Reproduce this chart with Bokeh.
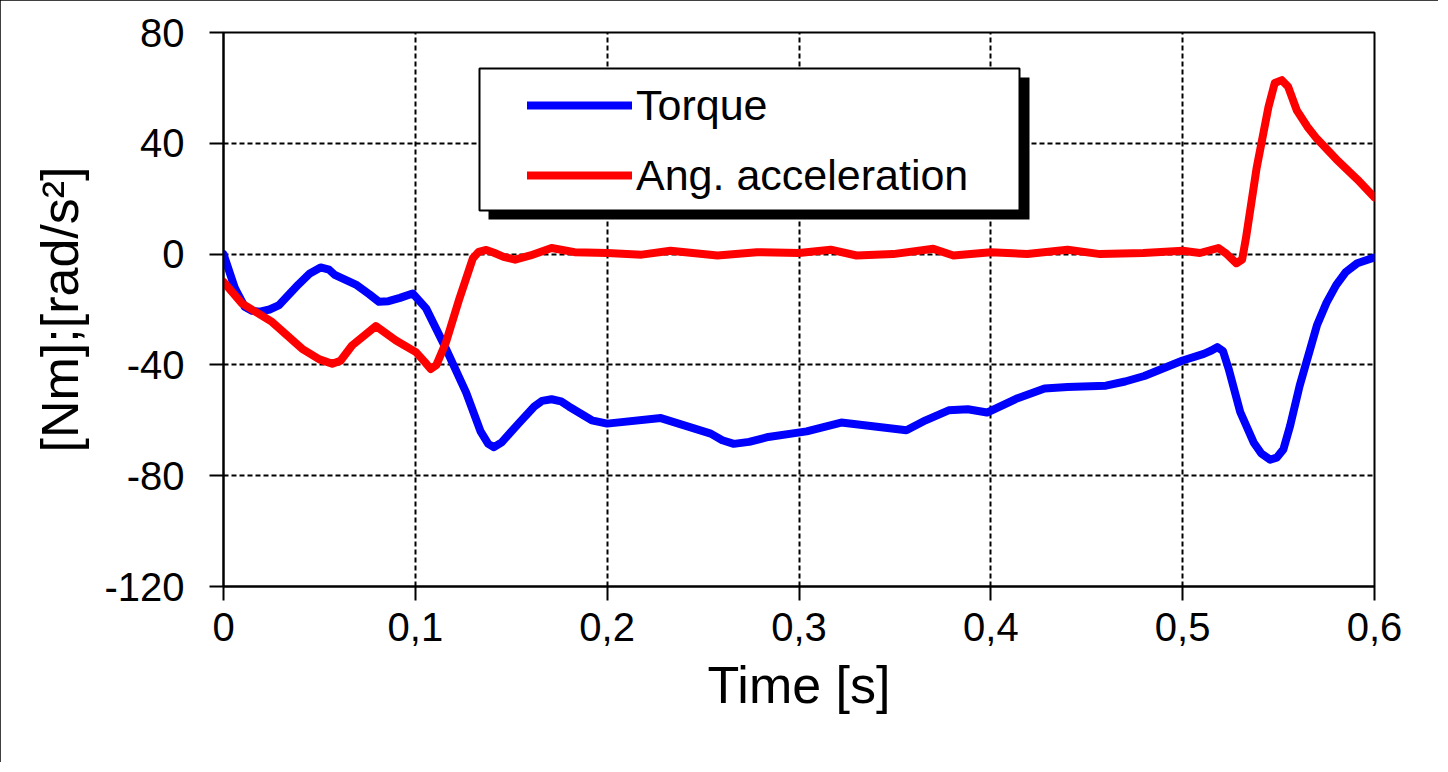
from bokeh.plotting import figure
from bokeh.models import (FixedTicker, CustomJSTickFormatter, Legend, LegendItem,
                          BoxAnnotation, ColumnDataSource)
from bokeh.embed import file_html
from bokeh.resources import INLINE

# ---- data ----
torque_t = [0.0, 0.006, 0.011, 0.015, 0.019, 0.024, 0.029, 0.039, 0.045, 0.0506, 0.055,
            0.058, 0.069, 0.076, 0.081, 0.086, 0.092, 0.0986, 0.1056, 0.116, 0.1265,
            0.134, 0.138, 0.141, 0.145, 0.154, 0.162, 0.166, 0.171, 0.176,
            0.180, 0.192, 0.2, 0.228, 0.254, 0.260, 0.266, 0.274, 0.284, 0.304,
            0.322, 0.356, 0.366, 0.378, 0.388, 0.398, 0.414, 0.428, 0.44, 0.46,
            0.47, 0.48, 0.5, 0.511, 0.515, 0.518, 0.521, 0.524, 0.530, 0.537,
            0.541, 0.5456, 0.549, 0.5525, 0.556, 0.561, 0.570, 0.575, 0.580,
            0.585, 0.591, 0.6]
torque_v = [0.0, -12.4, -19.0, -20.5, -20.8, -20.0, -18.4, -11.0, -7.0, -4.8, -5.6,
            -7.5, -11.0, -14.5, -17.2, -17.0, -15.8, -14.2, -19.6, -34.2, -50.0,
            -64.0, -68.5, -69.7, -68.0, -61.0, -55.0, -53.0, -52.4, -53.2,
            -55.0, -60.0, -61.2, -59.2, -64.8, -67.2, -68.5, -67.8, -66.0, -64.0,
            -60.8, -63.6, -60.0, -56.4, -56.0, -57.2, -52.0, -48.5, -48.0, -47.5,
            -46.0, -44.0, -38.4, -36.0, -34.8, -33.6, -35.0, -41.5, -57.0, -68.0,
            -72.0, -74.2, -73.5, -70.5, -62.0, -47.5, -25.7, -17.5, -11.2,
            -6.5, -3.3, -1.2]

accel_t = [0.0, 0.0096, 0.0253, 0.041, 0.050, 0.0567, 0.061, 0.067, 0.0794, 0.0899,
           0.1003, 0.105, 0.108, 0.111, 0.116, 0.123, 0.130, 0.133, 0.137, 0.141,
           0.146, 0.152, 0.160, 0.171, 0.183, 0.2, 0.218, 0.233,
           0.2575, 0.278, 0.3, 0.3165, 0.330, 0.349, 0.370, 0.3805, 0.4, 0.419,
           0.440, 0.457, 0.4795, 0.5, 0.509, 0.5186, 0.523, 0.528, 0.531, 0.533,
           0.5386, 0.5447, 0.548, 0.5517, 0.555, 0.5595, 0.565, 0.570, 0.580,
           0.591, 0.6]
accel_v = [-10.0, -17.8, -24.5, -34.2, -38.0, -39.6, -38.5, -33.0, -26.0, -31.2,
           -35.4, -39.0, -41.5, -40.0, -31.8, -16.0, -1.5, 0.8, 1.5, 0.5,
           -1.0, -2.0, -0.5, 2.2, 0.7, 0.4, -0.2, 1.2,
           -0.5, 0.7, 0.4, 1.6, -0.5, 0.0, 1.9, -0.5, 0.7, 0.0,
           1.6, 0.0, 0.4, 1.2, 0.4, 2.2, 0.0, -3.3, -2.0, 5.8,
           31.3, 53.0, 61.8, 62.8, 60.4, 51.9, 46.0, 41.6, 34.3,
           27.0, 20.4]

x_ticks = [0, 0.1, 0.2, 0.3, 0.4, 0.5, 0.6]
y_ticks = [-120, -80, -40, 0, 40, 80]
series_names = ["Torque", "Ang. acceleration"]
series_colors = ["#0000FF", "#FF0000"]

FONT = "Liberation Sans"

p = figure(width=1438, height=762, x_range=(0, 0.6), y_range=(-120, 80),
           output_backend="svg", toolbar_location=None,
           min_border_left=223, min_border_right=64, min_border_top=32,
           min_border_bottom=176)
p.styles = {"outline": "2px solid black", "outline-offset": "-2px"}

p.outline_line_color = "black"
p.outline_line_width = 2
p.background_fill_color = "white"

src_t = ColumnDataSource(dict(x=torque_t, y=torque_v))
src_a = ColumnDataSource(dict(x=accel_t, y=accel_v))
r1 = p.line("x", "y", source=src_t, line_color=series_colors[0], line_width=8,
            line_join="round", line_cap="round")
r2 = p.line("x", "y", source=src_a, line_color=series_colors[1], line_width=8,
            line_join="round", line_cap="round")

# axes
for ax in (p.xaxis[0], p.yaxis[0]):
    ax.axis_line_color = "black"
    ax.axis_line_width = 2
    ax.major_tick_line_color = "black"
    ax.major_tick_line_width = 2
    ax.major_tick_in = 0
    ax.major_tick_out = 14
    ax.minor_tick_line_color = None
    ax.major_label_text_font = FONT
    ax.major_label_text_font_size = "40px"
    ax.major_label_text_color = "black"
    ax.axis_label_text_font = FONT
    ax.axis_label_text_font_size = "52px"
    ax.axis_label_text_font_style = "normal"
    ax.axis_label_text_color = "black"

p.xaxis.ticker = FixedTicker(ticks=x_ticks)
p.yaxis.ticker = FixedTicker(ticks=y_ticks)
p.xaxis.formatter = CustomJSTickFormatter(
    code="return tick == 0 ? '0' : tick.toFixed(1).replace('.', ',');")
p.yaxis.formatter = CustomJSTickFormatter(code="return String(Math.round(tick));")
p.xaxis.axis_label = "Time [s]"
p.yaxis.axis_label = "[Nm];[rad/s²]"
p.xaxis.major_label_standoff = 12
p.yaxis.major_label_standoff = 25
p.xaxis.axis_label_standoff = 12
p.yaxis.axis_label_standoff = 12

# grid
for g in (p.xgrid[0], p.ygrid[0]):
    g.grid_line_color = "black"
    g.grid_line_width = 2
    g.grid_line_dash = "5 3"
    g.grid_line_alpha = 1.0
p.xgrid.ticker = FixedTicker(ticks=x_ticks)
p.ygrid.ticker = FixedTicker(ticks=y_ticks)

# legend box with shadow (screen units relative to frame, y up)
shadow = BoxAnnotation(left=265, right=806, top=509, bottom=367,
                       left_units="screen", right_units="screen",
                       top_units="screen", bottom_units="screen",
                       fill_color="black", fill_alpha=1.0, line_color=None)
box = BoxAnnotation(left=256, right=796, top=518, bottom=376,
                    left_units="screen", right_units="screen",
                    top_units="screen", bottom_units="screen",
                    fill_color="white", fill_alpha=1.0, line_color="black",
                    line_width=2, line_alpha=1.0)
p.add_layout(shadow)
p.add_layout(box)

legend = Legend(items=[LegendItem(label=series_names[0], renderers=[r1]),
                       LegendItem(label=series_names[1], renderers=[r2])],
                location=(304, 386), padding=0, margin=0, spacing=20,
                glyph_width=105, glyph_height=50, label_standoff=4,
                label_text_font=FONT, label_text_font_size="43px",
                label_text_color="black", background_fill_alpha=0,
                border_line_alpha=0)
p.add_layout(legend, "center")

open("out.html", "w").write(file_html(p, INLINE))
